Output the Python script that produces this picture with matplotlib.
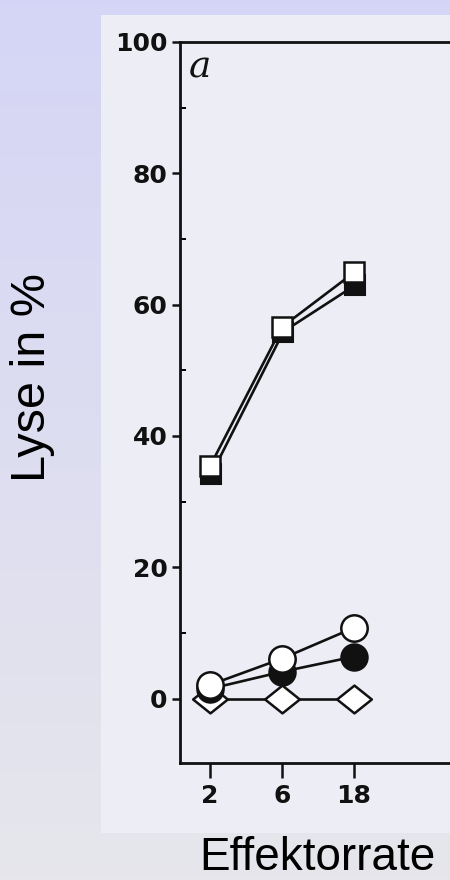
import numpy as np
import matplotlib
matplotlib.use('Agg')
import matplotlib.pyplot as plt
from matplotlib.patches import Rectangle
from matplotlib.path import Path

# Daten
effektor = ['2', '6', '18']
quadrat_offen = [35.4, 56.6, 64.9]
quadrat_voll = [34.2, 55.9, 63.0]
kreis_offen = [2.1, 6.1, 10.8]
kreis_voll = [1.5, 4.1, 6.4]
raute_offen = [0.0, 0.0, 0.0]

W, H = 450, 880
fig = plt.figure(figsize=(W / 100, H / 100), dpi=100)

# Hintergrund mit leichtem Verlauf (lavendel -> grau)
bg = fig.add_axes([0, 0, 1, 1], zorder=-10)
grad = np.linspace(0, 1, 256).reshape(-1, 1)
top = np.array([0.835, 0.835, 0.965])
bot = np.array([0.902, 0.902, 0.925])
img = top + (bot - top) * grad[:, :, None]
bg.imshow(img, aspect='auto', extent=[0, 1, 0, 1])
bg.set_xlim(0, 1)
bg.set_ylim(0, 1)
bg.axis('off')

# gescanntes Feld
bg.add_patch(Rectangle((101 / W, 1 - 833 / H), 1, (833 - 15) / H,
                       facecolor='#ededf5', edgecolor='none'))

# Achsen: linke Kante x=180px, oben y=42px, unten y=763px
ax = fig.add_axes([180 / W, 1 - 763 / H, 290 / W, (763 - 42) / H])
ax.set_facecolor('none')
x = np.arange(len(effektor))

lw = 1.9
raute = Path([(-1.25, 0), (0, 1), (1.25, 0), (0, -1), (-1.25, 0)],
             [Path.MOVETO, Path.LINETO, Path.LINETO, Path.LINETO, Path.CLOSEPOLY])

ax.plot(x, raute_offen, color='#111111', lw=lw, marker=raute, ms=25,
        mfc='white', mec='#111111', mew=1.8, zorder=3)
ax.plot(x + 0.02, quadrat_voll, color='#111111', lw=lw, marker='s', ms=15,
        mfc='#111111', mec='#111111', mew=1.5, zorder=3)
ax.plot(x, kreis_voll, color='#111111', lw=lw, marker='o', ms=19,
        mfc='#111111', mec='#111111', mew=1.5, zorder=3)
ax.plot(x, quadrat_offen, color='#111111', lw=lw, marker='s', ms=15,
        mfc='white', mec='#111111', mew=1.8, zorder=4)
ax.plot(x, kreis_offen, color='#111111', lw=lw, marker='o', ms=19,
        mfc='white', mec='#111111', mew=1.8, zorder=4)

ax.set_xlim(-0.417, 3.61)
ax.set_ylim(-9.8, 100)
ax.set_xticks(x)
ax.set_xticklabels(effektor)
ax.set_yticks([0, 20, 40, 60, 80, 100])
ax.set_yticks([10, 30, 50, 70, 90], minor=True)

for s in ax.spines.values():
    s.set_linewidth(2.0)
    s.set_color('#111111')
ax.spines['right'].set_visible(False)

ax.tick_params(axis='x', direction='out', length=11, width=1.8, pad=4,
               labelsize=18, colors='#111111')
ax.tick_params(axis='y', which='major', direction='out', length=6, width=1.8,
               pad=3, labelsize=18, colors='#111111')
ax.tick_params(axis='y', which='minor', direction='in', length=4, width=1.4)
for lab in ax.get_xticklabels() + ax.get_yticklabels():
    lab.set_fontweight('bold')

ax.text(0.03, 0.99, 'a', transform=ax.transAxes, fontsize=27,
        family='DejaVu Serif', style='italic', color='#111111',
        ha='left', va='top')

# Beschriftungen
fig.text(33 / W, 1 - 377 / H, 'Lyse in %', rotation=90, fontsize=35,
         family='Liberation Sans', ha='center', va='center', color='black')
fig.text(317 / W, 1 - 870 / H, 'Effektorrate', fontsize=33,
         family='Liberation Sans', ha='center', va='baseline', color='black')

plt.savefig('out.png', dpi=100, facecolor=fig.get_facecolor())
